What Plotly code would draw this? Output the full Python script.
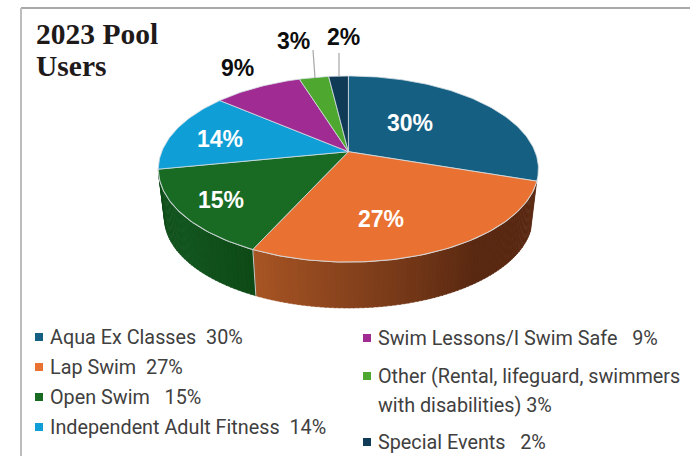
import math
import plotly.graph_objects as go

categories = ["Aqua Ex Classes", "Lap Swim", "Open Swim", "Independent Adult Fitness",
              "Swim Lessons/I Swim Safe", "Other", "Special Events"]
values = [30, 27, 15, 14, 9, 3, 2]
pct_labels = ["30%", "27%", "15%", "14%", "9%", "3%", "2%"]
colors = ["#156082", "#E97132", "#196B24", "#0F9ED5", "#A02B93", "#4EA72E", "#0F3B57"]
legend_left = ["Aqua Ex Classes  30%", "Lap Swim  27%", "Open Swim   15%", "Independent Adult Fitness  14%"]
legend_right = ["Swim Lessons/I Swim Safe   9%", "Other (Rental, lifeguard, swimmers", "with disabilities) 3%", "Special Events   2%"]
title_lines = ["2023 Pool", "Users"]

# perspective disc geometry (pixel-space axes)
CX, CY, A, B, K = 348.4, 151.7, 186.7, 89.8, 0.186
S, DY = 0.968, 49.5


def rim(deg, r=1.0, bottom=False):
    t = math.radians(deg)
    u, v = r * math.sin(t), -r * math.cos(t)
    w = 1 - K * v
    s = S if bottom else 1.0
    y0 = CY + DY if bottom else CY
    return CX + s * A * u / w, y0 + s * B * v / w


def mix(c1, c2, f):
    a = [int(c1[i:i + 2], 16) for i in (1, 3, 5)]
    b = [int(c2[i:i + 2], 16) for i in (1, 3, 5)]
    return "rgb(%d,%d,%d)" % tuple(round(p + (q - p) * f) for p, q in zip(a, b))


fig = go.Figure()
total = sum(values)
edges = [0]
for val in values:
    edges.append(edges[-1] + val / total * 360)

# side walls: orange then green
side_styles = {1: ("#A85524", "#5A2912", 0.62), 2: ("#0E4A16", "#135620", 1.0)}
for idx in (1, 2):
    c_left, c_right, span = side_styles[idx]
    start, end = edges[idx], edges[idx + 1]
    n = 80 if idx == 1 else 40
    for i in range(n):
        a0 = start + (end - start) * i / n
        a1 = start + (end - start) * (i + 1) / n + 0.3
        p0, p1 = rim(a0), rim(a1)
        q0, q1 = rim(a1, bottom=True), rim(a0, bottom=True)
        if idx == 1:
            f = min(1.0, (1 - (i + 0.5) / n) / span)
            col = mix(c_left, c_right, f)
        else:
            f = (i + 0.5) / n
            col = mix(c_left, c_right, 1 - abs(2 * f - 1))
        fig.add_trace(go.Scatter(x=[p0[0], p1[0], q0[0], q1[0], p0[0]], y=[p0[1], p1[1], q0[1], q1[1], p0[1]],
                                 mode="lines", fill="toself", fillcolor=col, line=dict(color=col, width=0.5),
                                 hoverinfo="skip", showlegend=False))

# divider on side wall
for a in (edges[2],):
    p, q = rim(a), rim(a, bottom=True)
    fig.add_trace(go.Scatter(x=[p[0], q[0]], y=[p[1], q[1]], mode="lines",
                             line=dict(color="#C9C9C9", width=1), hoverinfo="skip", showlegend=False))
# rim highlight
xs, ys = [], []
for i in range(121):
    p = rim(edges[1] + (edges[3] - edges[1]) * i / 120)
    xs.append(p[0]); ys.append(p[1])
fig.add_trace(go.Scatter(x=xs, y=ys, mode="lines", line=dict(color="#D8D8D8", width=1.2), hoverinfo="skip", showlegend=False))

# top faces
for i, (name, col) in enumerate(zip(categories, colors)):
    n = max(8, int(values[i] * 3))
    pts = [rim(edges[i] + (edges[i + 1] - edges[i]) * j / n) for j in range(n + 1)]
    xs = [CX] + [p[0] for p in pts] + [CX]
    ys = [CY] + [p[1] for p in pts] + [CY]
    fig.add_trace(go.Scatter(x=xs, y=ys, mode="lines", fill="toself", fillcolor=col, name=name,
                             line=dict(color="#D5DEE3", width=0.8), hoverinfo="name", showlegend=False))

anns = []
# data labels
for txt, px, py in zip(pct_labels[:4], [410, 381, 221, 220], [123, 219, 200, 139]):
    anns.append(dict(x=px, y=py, text="<b>%s</b>" % txt, showarrow=False, xanchor="center", yanchor="middle",
                     font=dict(family="Liberation Sans", size=23, color="white")))
for txt, px, py in zip(pct_labels[4:], [237, 293, 343], [68, 41, 37]):
    anns.append(dict(x=px, y=py, text="<b>%s</b>" % txt, showarrow=False, xanchor="center", yanchor="middle",
                     font=dict(family="Liberation Sans", size=23, color="#0D0D0D")))

# leader lines and frame
shapes = [
    dict(type="line", x0=313, y0=50, x1=315, y1=78, line=dict(color="#A6A6A6", width=1.2)),
    dict(type="line", x0=339, y0=53, x1=339, y1=76, line=dict(color="#A6A6A6", width=1.2)),
    dict(type="line", x0=21, y0=8, x1=690, y1=8, line=dict(color="#A8A8A8", width=2)),
    dict(type="line", x0=21, y0=8, x1=21, y1=456, line=dict(color="#BDBDBD", width=2)),
]

for txt, y in zip(title_lines, [34, 66]):
    anns.append(dict(x=33.5, y=y, text="<b>%s</b>" % txt, showarrow=False, xanchor="left", yanchor="middle", align="left",
                     font=dict(family="Liberation Serif", size=29.5, color="#1F1A1A")))

legend_font = dict(family="Roboto", size=19.8, color="#404040")
for txt, col, y in zip(legend_left, colors[:4], [337, 367, 397, 427]):
    shapes.append(dict(type="rect", x0=35, x1=43, y0=y - 4, y1=y + 4, fillcolor=col, line=dict(width=0)))
    anns.append(dict(x=48, y=y, text=txt, showarrow=False, xanchor="left", yanchor="middle", align="left", font=legend_font))
for txt, y in zip(legend_right, [338, 376, 405, 442]):
    anns.append(dict(x=376, y=y, text=txt, showarrow=False, xanchor="left", yanchor="middle", align="left", font=legend_font))
for col, my in zip(colors[4:], [338, 376, 442]):
    shapes.append(dict(type="rect", x0=363, x1=371, y0=my - 4, y1=my + 4, fillcolor=col, line=dict(width=0)))

fig.update_layout(
    width=690, height=456, margin=dict(l=0, r=0, t=0, b=0), paper_bgcolor="white", plot_bgcolor="white",
    xaxis=dict(range=[0, 690], visible=False, fixedrange=True),
    yaxis=dict(range=[456, 0], visible=False, fixedrange=True),
    annotations=anns, shapes=shapes, showlegend=False,
)
fig.write_html("out.html", config={"displayModeBar": False},
               post_script="document.body.style.margin='0';document.body.style.overflow='hidden';")
